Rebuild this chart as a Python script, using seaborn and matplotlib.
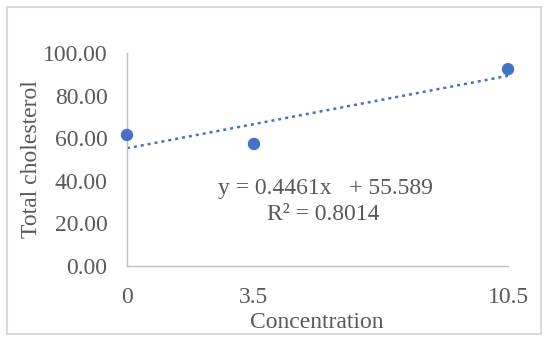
import numpy as np
import pandas as pd
import matplotlib
matplotlib.use("Agg")
import matplotlib.pyplot as plt
import seaborn as sns
from matplotlib.patches import Rectangle

# data
concentration = [0, 3.5, 10.5]
cholesterol = [61.5, 57.3, 92.4]
x_ticks = [0, 3.5, 10.5]
x_tick_labels = ["0", "3.5", "10.5"]
y_ticks = [0, 20, 40, 60, 80, 100]
eq_text = "y = 0.4461x   + 55.589"
r2_text = "R\u00b2 = 0.8014"

df = pd.DataFrame({"Concentration": concentration, "Total cholesterol": cholesterol})

sns.set_theme(style="white")
plt.rcParams["font.family"] = ["Liberation Serif", "DejaVu Serif"]
TXT = "#595959"
BLUE = "#4472C4"
FS = 17

fig = plt.figure(figsize=(5.5, 3.43), dpi=100)
ax = fig.add_axes([127 / 550, 1 - 266 / 343, (508 - 127) / 550, (266 - 53) / 343])

# outer frame like the Excel chart area
fig.patches.append(Rectangle((7 / 550, 1 - 334 / 343), 534 / 550, 327 / 343,
                             transform=fig.transFigure, fill=False,
                             edgecolor="#d9d9d9", lw=1.5))

# linear trendline
sns.regplot(data=df, x="Concentration", y="Total cholesterol", ax=ax, ci=None,
            scatter=False, truncate=True,
            line_kws={"color": BLUE, "lw": 1.8, "linestyle": (0, (1.2, 1.6)),
                      "dash_capstyle": "butt"})
sns.scatterplot(data=df, x="Concentration", y="Total cholesterol", ax=ax,
                color=BLUE, s=80, edgecolor="none", clip_on=False, zorder=5)

ax.set_xlim(0, 10.5)
ax.set_ylim(0, 100)
ax.set_xticks(x_ticks)
ax.set_xticklabels(x_tick_labels)
ax.set_yticks(y_ticks)
ax.set_yticklabels([f"{v:.2f}" for v in y_ticks])
ax.tick_params(axis="x", length=0, pad=15, labelsize=FS, labelcolor=TXT)
ax.tick_params(axis="y", length=0, pad=14, labelsize=FS, labelcolor=TXT)

for s in ["top", "right"]:
    ax.spines[s].set_visible(False)
for s in ["left", "bottom"]:
    ax.spines[s].set_color("#bfbfbf")
    ax.spines[s].set_linewidth(1)

ax.set_xlabel("Concentration", fontsize=FS, color=TXT)
ax.set_ylabel("Total cholesterol", fontsize=FS, color=TXT)
ax.xaxis.set_label_coords(0.499, -0.215)
ax.yaxis.set_label_coords(-0.223, 0.5)

ax.text(5.47, 36.6, eq_text, ha="center", va="center", fontsize=FS, color=TXT)
ax.text(5.42, 24.0, r2_text, ha="center", va="center", fontsize=FS, color=TXT)

fig.savefig("out.png", dpi=100)
